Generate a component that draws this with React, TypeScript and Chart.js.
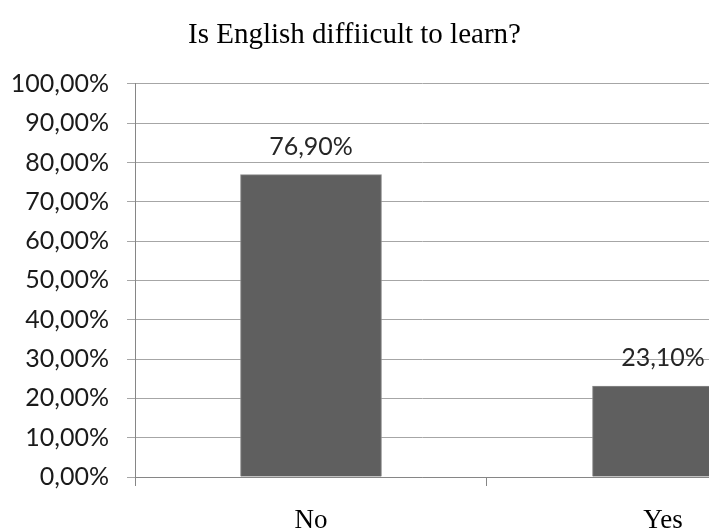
import React, { useEffect, useRef } from "react";
import { Chart, registerables } from "chart.js";

Chart.register(...registerables);

const TITLE = "Is English diffiicult to learn?";
const categories = ["No", "Yes"];
const values = [76.9, 23.1];
const yTicks = [0, 10, 20, 30, 40, 50, 60, 70, 80, 90, 100];

const fmt = (v: number) => v.toFixed(2).replace(".", ",") + "%";

const dataLabelPlugin = {
  id: "dataLabels",
  afterDatasetsDraw(chart: any) {
    const ctx = chart.ctx;
    const meta = chart.getDatasetMeta(0);
    ctx.save();
    ctx.font = "25px Lato";
    ctx.fillStyle = "#262626";
    ctx.textAlign = "center";
    ctx.textBaseline = "middle";
    meta.data.forEach((bar: any, i: number) => {
      ctx.fillText(fmt(values[i]), bar.x, bar.y - 28);
    });
    ctx.restore();
  },
};

export default function App() {
  const ref = useRef<HTMLCanvasElement>(null);
  useEffect(() => {
    if (!ref.current) return;
    const chart = new Chart(ref.current, {
      type: "bar",
      data: {
        datasets: [
          {
            data: values.map((v, i) => ({ x: i + 0.5, y: v })),
            backgroundColor: "#5f5f5f",
            borderColor: "#8a8a8a",
            borderWidth: 1,
            barThickness: 141,
          },
        ],
      },
      options: {
        animation: false,
        responsive: true,
        maintainAspectRatio: false,
        layout: { padding: 0 },
        plugins: {
          legend: { display: false },
          tooltip: { enabled: false },
          title: {
            display: true,
            text: TITLE,
            font: { family: "'Liberation Serif'", size: 29, weight: "normal" },
            color: "#000",
            padding: { top: 18, bottom: 31 },
          },
        },
        scales: {
          x: {
            type: "linear",
            offset: false,
            min: 0,
            max: 1.6307,
            afterBuildTicks: (scale: any) => {
              const t: any[] = [];
              categories.forEach((_, i) => {
                t.push({ value: i });
                t.push({ value: i + 0.5 });
              });
              scale.ticks = t;
            },
            afterFit: (scale: any) => {
              scale.height = 52;
            },
            ticks: {
              autoSkip: false,
              maxRotation: 0,
              padding: 19,
              color: "#000",
              font: { family: "'Liberation Serif'", size: 27 },
              callback: (v: any) => {
                const n = Number(v);
                return Math.abs(n % 1 - 0.5) < 1e-6 ? categories[Math.floor(n)] : "";
              },
            },
            grid: {
              offset: false,
              drawOnChartArea: false,
              drawTicks: true,
              tickLength: 9,
              tickColor: (c: any) =>
                c.tick && Math.abs(c.tick.value % 1) < 1e-6 ? "#868686" : "rgba(0,0,0,0)",
            },
            border: { display: true, color: "#868686" },
          },
          y: {
            min: 0,
            max: 100,
            afterBuildTicks: (scale: any) => {
              scale.ticks = yTicks.map((v) => ({ value: v }));
            },
            afterFit: (scale: any) => {
              scale.width = 135;
            },
            ticks: {
              padding: 18,
              color: "#1a1a1a",
              font: { family: "Lato", size: 25 },
              callback: (v: any) => fmt(Number(v)),
            },
            grid: {
              color: "#a6a6a6",
              tickLength: 8,
              tickColor: "#a6a6a6",
            },
            border: { display: true, color: "#868686" },
          },
        },
      },
      plugins: [dataLabelPlugin],
    } as any);
    return () => chart.destroy();
  }, []);
  return (
    <div style={{ position: "absolute", left: 0, top: 0, width: 709, height: 529, background: "#fff" }}>
      <canvas ref={ref} />
    </div>
  );
}
